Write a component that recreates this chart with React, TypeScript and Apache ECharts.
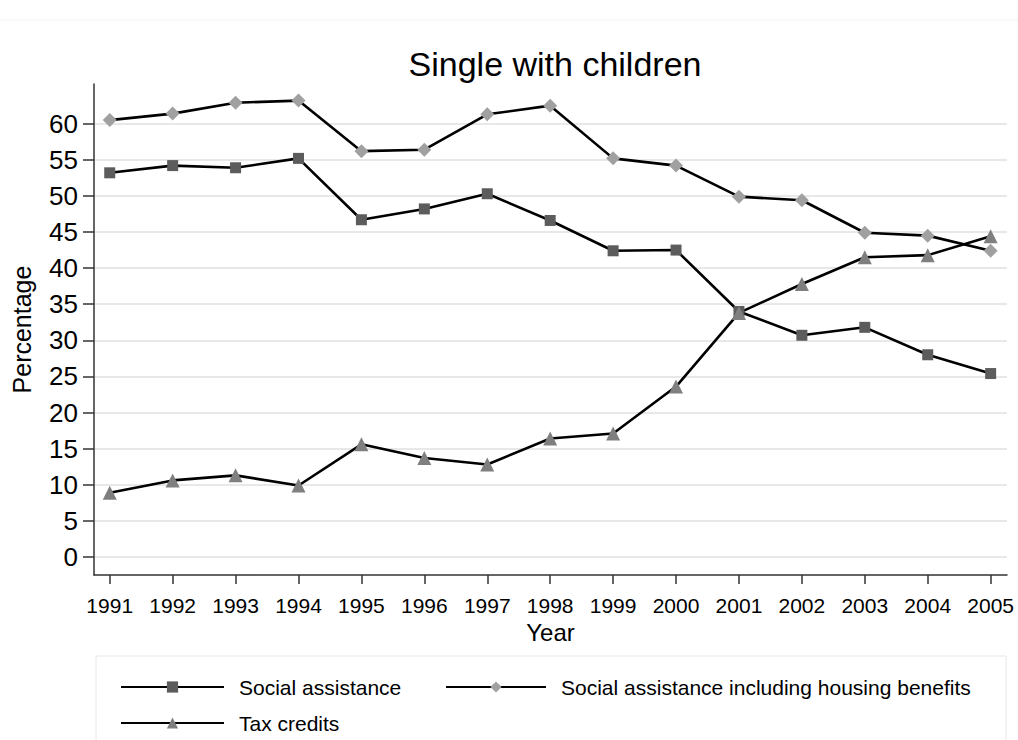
import React, { useEffect, useRef } from "react";
import * as echarts from "echarts";

const years = [1991, 1992, 1993, 1994, 1995, 1996, 1997, 1998, 1999, 2000, 2001, 2002, 2003, 2004, 2005];
const socialAssistance = [53.2, 54.2, 53.9, 55.2, 46.7, 48.2, 50.3, 46.6, 42.4, 42.5, 34.0, 30.7, 31.8, 28.0, 25.4];
const socialHousing = [60.5, 61.4, 62.9, 63.2, 56.2, 56.4, 61.3, 62.5, 55.2, 54.2, 49.9, 49.4, 44.9, 44.5, 42.4];
const taxCredits = [8.9, 10.6, 11.3, 9.9, 15.6, 13.7, 12.8, 16.4, 17.1, 23.6, 33.8, 37.8, 41.5, 41.8, 44.4];
const yTicks = [0, 5, 10, 15, 20, 25, 30, 35, 40, 45, 50, 55, 60];
const seriesNames = ["Social assistance", "Social assistance including housing benefits", "Tax credits"];

const FONT = "'Liberation Sans', Arial, Helvetica, sans-serif";

export default function App() {
  const ref = useRef<HTMLDivElement>(null);
  useEffect(() => {
    if (!ref.current) return;
    const chart = echarts.init(ref.current, undefined, { renderer: "svg" });
    const pair = (arr: number[]) => years.map((y, i) => [y, arr[i]]);
    const lineStyle = { color: "#000", width: 2.6 };
    chart.setOption({
      animation: false,
      backgroundColor: "#fff",
      textStyle: { fontFamily: FONT },
      title: {
        text: "Single with children",
        left: 550,
        textAlign: "center",
        top: 42,
        textStyle: { fontFamily: FONT, fontSize: 34, fontWeight: "normal", color: "#000" },
      },
      grid: { left: 94, right: 11, top: 84, bottom: 165, outerBoundsMode: "none" },
      xAxis: {
        type: "value",
        min: 1990.75,
        max: 2005.26,
        name: "Year",
        nameLocation: "middle",
        nameGap: 40,
        nameTextStyle: { fontFamily: FONT, fontSize: 24, color: "#000" },
        axisLine: { show: true, onZero: false, lineStyle: { color: "#333", width: 1.5 } },
        axisTick: { show: true, length: 9, customValues: years, lineStyle: { color: "#333", width: 1.5 } },
        axisLabel: {
          customValues: years,
          formatter: (v: number) => String(v),
          fontFamily: FONT,
          fontSize: 21,
          color: "#000",
          margin: 20,
        },
        splitLine: { show: false },
      },
      yAxis: {
        type: "value",
        min: -2.5,
        max: 65.5,
        name: "Percentage",
        nameLocation: "middle",
        nameRotate: 90,
        nameGap: 60,
        nameTextStyle: { fontFamily: FONT, fontSize: 25, color: "#000" },
        axisLine: { show: true, onZero: false, lineStyle: { color: "#333", width: 1.5 } },
        axisTick: { show: true, length: 11, customValues: yTicks, lineStyle: { color: "#333", width: 1.5 } },
        axisLabel: {
          customValues: yTicks,
          fontFamily: FONT,
          fontSize: 26,
          color: "#000",
          margin: 16,
        },
        splitLine: { show: true, lineStyle: { color: "#e8e8e8", width: 2 } },
      },
      legend: [
        {
          data: [seriesNames[0], seriesNames[2]],
          orient: "vertical",
          left: 115,
          top: 670,
          itemWidth: 103,
          itemHeight: 14,
          itemGap: 12,
          textStyle: { fontFamily: FONT, fontSize: 21, color: "#000", lineHeight: 24, padding: [0, 0, 0, 10] },
        },
        {
          data: [seriesNames[1]],
          orient: "vertical",
          left: 440,
          top: 670,
          itemWidth: 100,
          itemHeight: 14,
          textStyle: { fontFamily: FONT, fontSize: 21, color: "#000", lineHeight: 24, padding: [0, 0, 0, 10] },
        },
      ],
      graphic: [
        { type: "rect", shape: { x: 96, y: 656, width: 910, height: 100 }, style: { fill: "none", stroke: "#e8e8e8", lineWidth: 1 } },
        { type: "line", shape: { x1: 0, y1: 20, x2: 1018, y2: 20 }, style: { stroke: "#f2f2f2", lineWidth: 1 } },
      ],
      series: [
        {
          name: seriesNames[0],
          type: "line",
          data: pair(socialAssistance),
          symbol: "rect",
          symbolSize: 11,
          itemStyle: { color: "#5c5c5c" },
          lineStyle,
        },
        {
          name: seriesNames[1],
          type: "line",
          data: pair(socialHousing),
          symbol: "diamond",
          symbolSize: 14,
          itemStyle: { color: "#a0a0a0" },
          lineStyle,
        },
        {
          name: seriesNames[2],
          type: "line",
          data: pair(taxCredits),
          symbol: "triangle",
          symbolSize: 14,
          itemStyle: { color: "#7f7f7f" },
          lineStyle,
        },
      ],
    });
    return () => chart.dispose();
  }, []);
  return <div ref={ref} style={{ position: "fixed", left: 0, top: 0, width: 1018, height: 740 }} />;
}
